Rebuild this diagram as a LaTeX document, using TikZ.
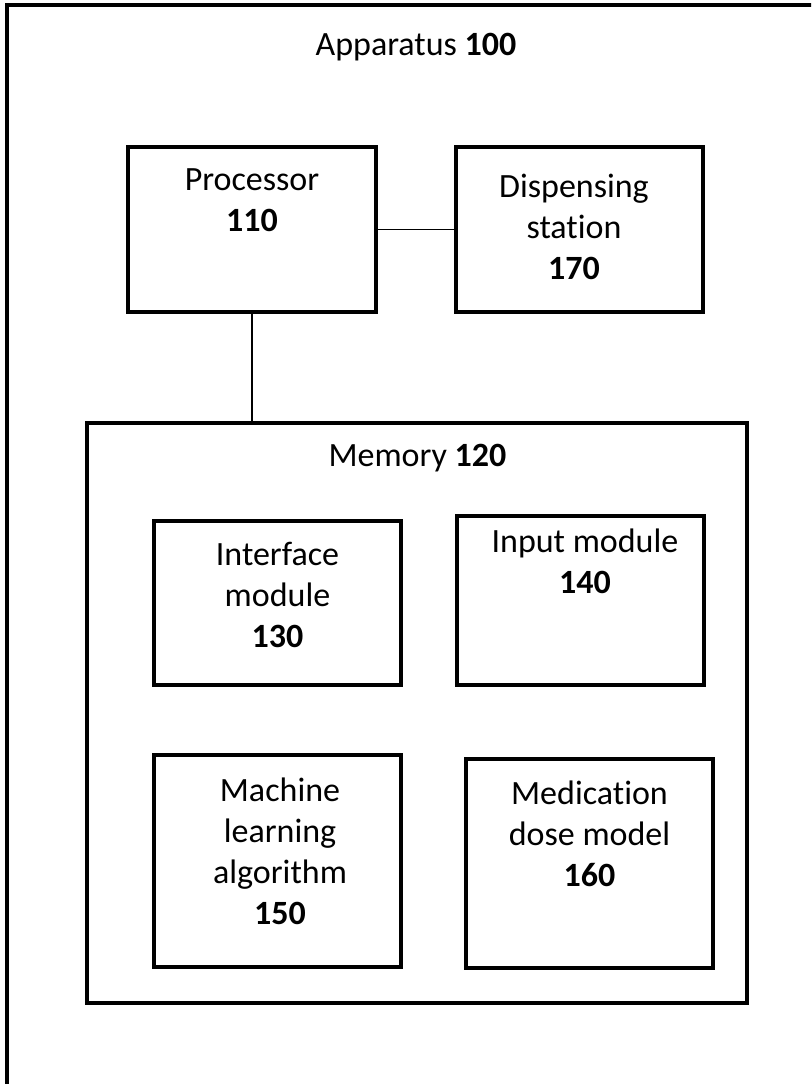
\documentclass[tikz,border=0pt]{standalone}
\usepackage{fontspec}
\setmainfont{Carlito}[Ligatures=NoCommon]
\usetikzlibrary{positioning}
\tikzset{
  unit/.style={draw, line width=3.2pt, inner sep=0pt},
  ttl/.style={font=\fontsize{34}{41}\selectfont, align=center, anchor=north, inner sep=0pt},
  wire/.style={line width=1.6pt},
}

\begin{document}
\begin{tikzpicture}[x=1pt,y=-1pt]
  \useasboundingbox (0,0) rectangle (811,1084);
  % apparatus frame, runs off the page
  \begin{scope}
    \clip (0,0) rectangle (811,1084);
    \draw[line width=3.5pt] (7,5) rectangle (830,1100);
  \end{scope}
  \node[ttl] (appT) at (416,33) {Apparatus \textbf{100}};
  % processor and dispensing station
  \node[unit, minimum width=248pt, minimum height=165pt] (proc) at (252,229.5) {};
  \node[ttl] (procT) at (252,168) {Processor\\\textbf{110}};
  \node[unit, minimum width=247pt, minimum height=165pt] (disp) at (579.5,229.5) {};
  \node[ttl] (dispT) at (574,174) {Dispensing\\station\\\textbf{170}};
  % memory
  \node[unit, minimum width=660pt, minimum height=580pt] (mem) at (417,713) {};
  \node[ttl] (memT) at (417.5,444) {Memory \textbf{120}};
  % modules
  \node[unit, minimum width=247pt, minimum height=164pt] (iface) at (277.5,603) {};
  \node[ttl] (ifaceT) at (277.5,542) {Interface\\module\\\textbf{130}};
  \node[unit, minimum width=247pt, minimum height=169pt] (inmod) at (580.5,600.5) {};
  \node[ttl] (inmodT) at (585,529) {Input module\\\textbf{140}};
  \node[unit, minimum width=247pt, minimum height=212pt] (mlalg) at (277.5,861) {};
  \node[ttl] (mlalgT) at (280,778) {Machine\\learning\\algorithm\\\textbf{150}};
  \node[unit, minimum width=247pt, minimum height=209pt] (dose) at (589.5,863.5) {};
  \node[ttl] (doseT) at (589.5,781) {Medication\\dose model\\\textbf{160}};
  % links
  \draw[wire] (proc) -- (disp);
  \draw[wire] (proc.south) -- (proc.south |- mem.north);
\end{tikzpicture}
\end{document}
